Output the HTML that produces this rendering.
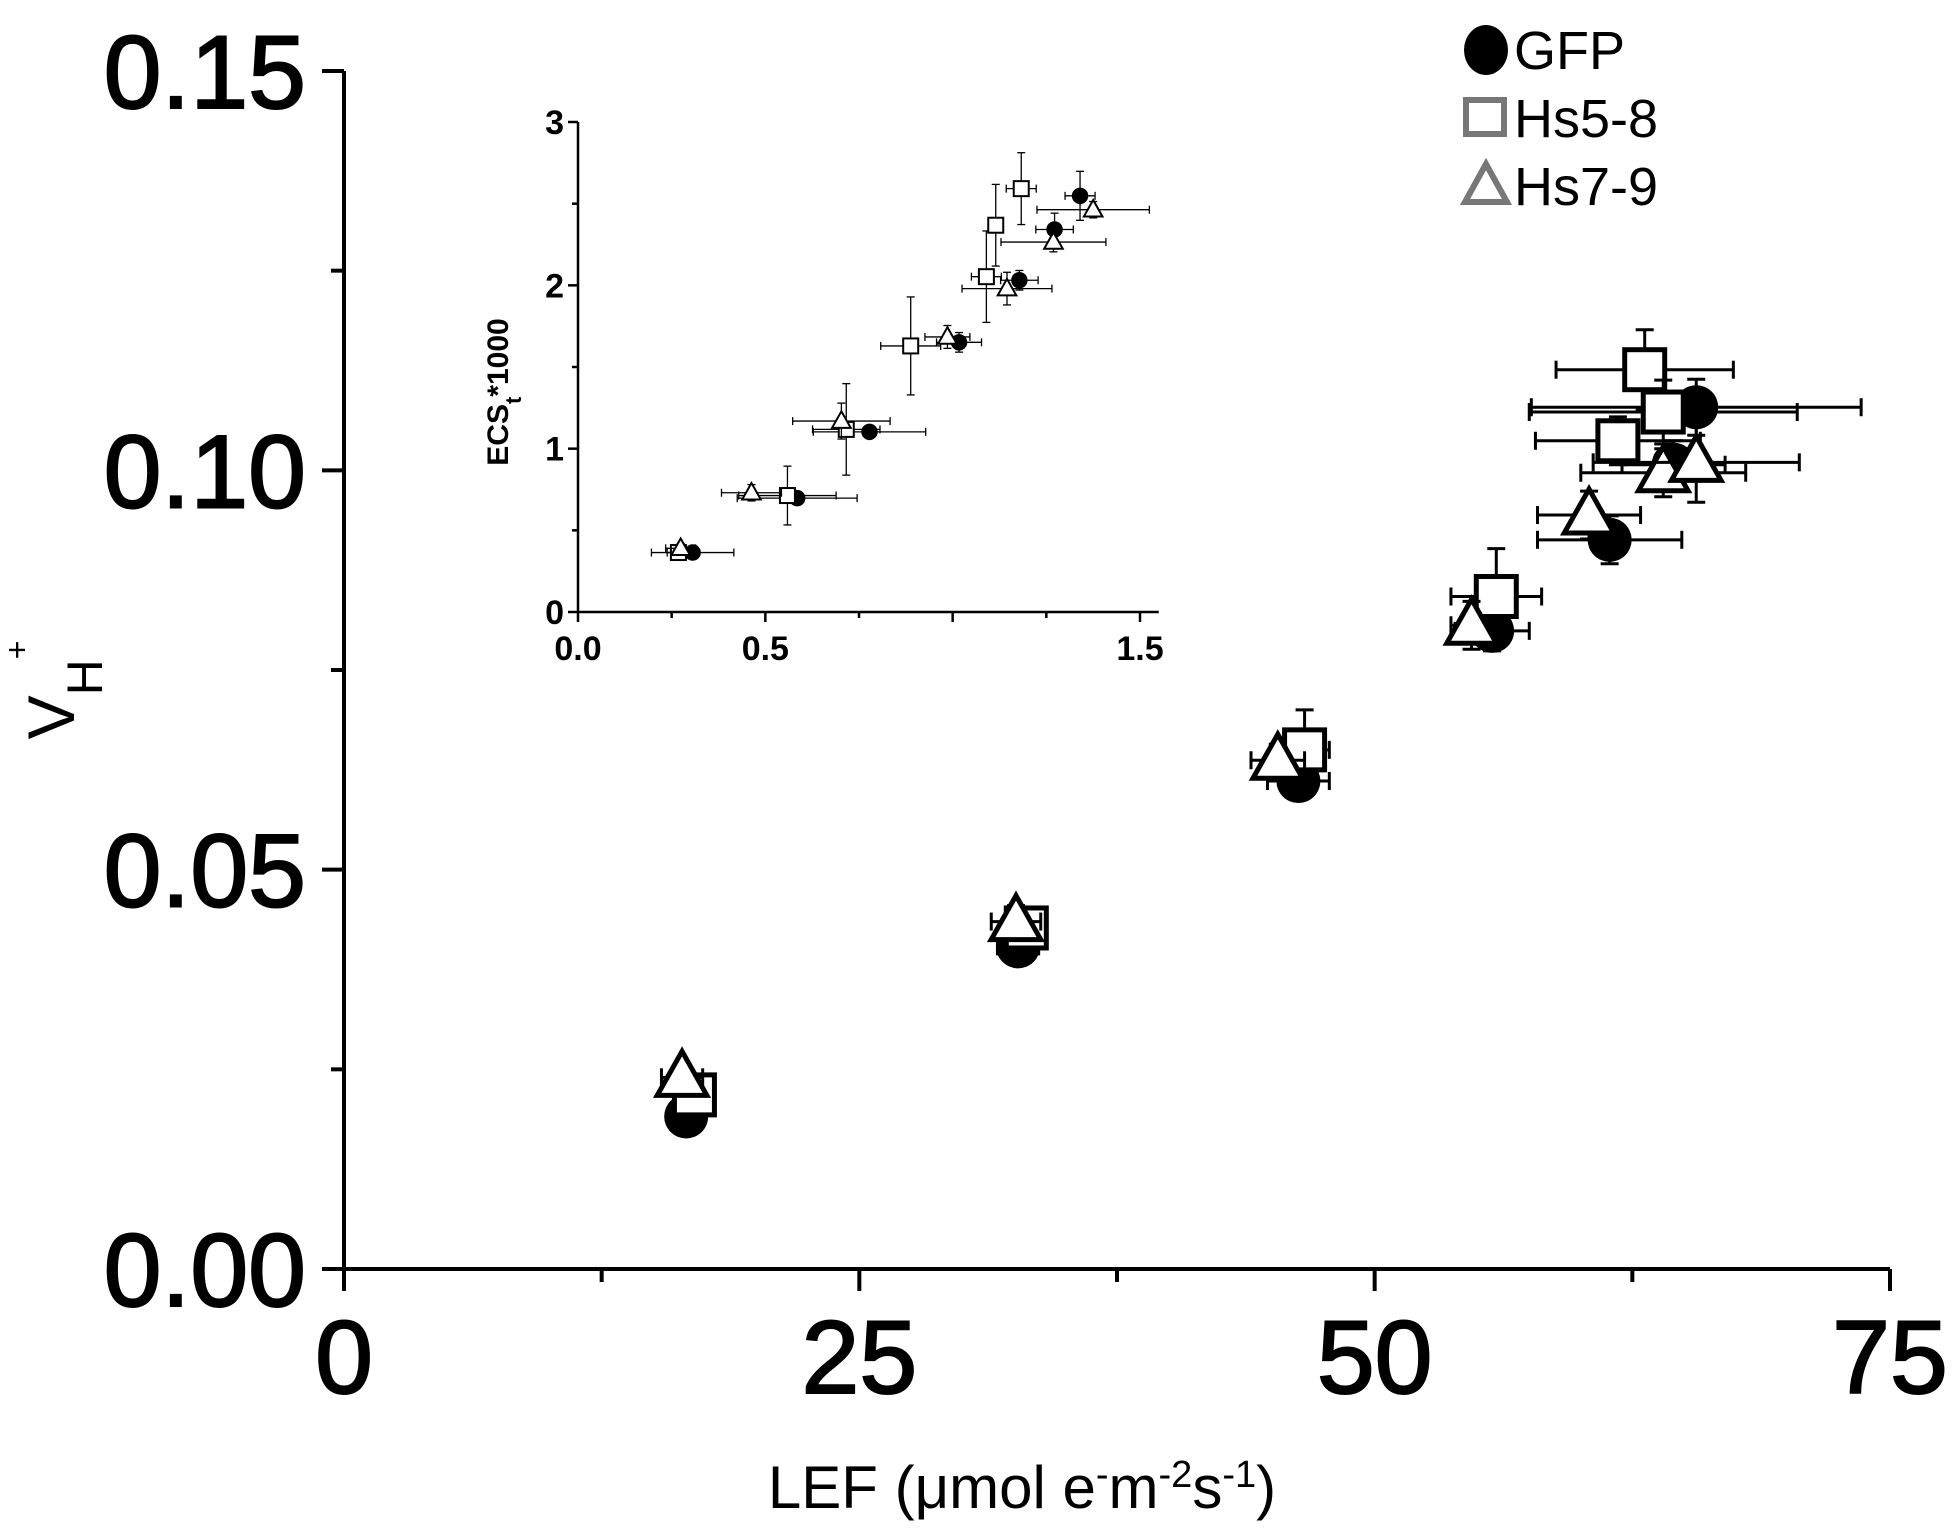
<!DOCTYPE html>
<html><head><meta charset="utf-8"><style>
html,body{margin:0;padding:0;background:#fff;}
svg{display:block;font-family:"Liberation Sans",Arial,sans-serif;}
</style></head><body>
<svg id="chart" width="1959" height="1533" viewBox="0 0 1959 1533" xmlns="http://www.w3.org/2000/svg"></svg>
<script>
// Main chart data: LEF vs vH+
const lefGFP = [16.6, 32.7, 46.3, 55.7, 61.4, 64.5, 65.6];
const vhGFP = [0.0191, 0.0404, 0.0611, 0.0799, 0.0913, 0.1007, 0.1079];
const lefErrGFP = [0.6, 1.0, 1.5, 1.8, 3.5, 2.5, 8.0];
const vhErrGFP = [0.0015, 0.002, 0.002, 0.0025, 0.003, 0.003, 0.0035];
const lefHs58 = [17.0, 33.1, 46.6, 55.9, 61.8, 63.1, 64.0];
const vhHs58 = [0.0218, 0.0427, 0.065, 0.0842, 0.1037, 0.1126, 0.1073];
const lefErrHs58 = [0.6, 0.8, 1.2, 2.2, 4.0, 4.3, 6.5];
const vhErrHs58 = [0.0015, 0.002, 0.005, 0.006, 0.003, 0.005, 0.004];
const lefHs79 = [16.4, 32.6, 45.3, 54.7, 60.4, 64.0, 65.6];
const vhHs79 = [0.024, 0.0435, 0.0637, 0.0806, 0.0944, 0.0997, 0.101];
const lefErrHs79 = [1.0, 1.2, 1.3, 1.0, 2.5, 4.0, 5.0];
const vhErrHs79 = [0.0015, 0.002, 0.002, 0.003, 0.003, 0.003, 0.005];
const xTicks = [0, 25, 50, 75];
const yTicks = [0.00, 0.05, 0.10, 0.15];
const yTickLabels = ["0.00", "0.05", "0.10", "0.15"];
// Inset data: ECSt*1000 vs x
const inXGFP = [0.306, 0.585, 0.778, 1.017, 1.178, 1.272, 1.340];
const inYGFP = [0.364, 0.697, 1.103, 1.651, 2.031, 2.342, 2.548];
const inXErrGFP = [0.11, 0.16, 0.15, 0.06, 0.05, 0.05, 0.04];
const inYErrGFP = [0.03, 0.04, 0.04, 0.06, 0.06, 0.1, 0.15];
const inXHs58 = [0.268, 0.559, 0.716, 0.888, 1.090, 1.115, 1.183];
const inYHs58 = [0.364, 0.713, 1.118, 1.629, 2.053, 2.368, 2.592];
const inXErrHs58 = [0.03, 0.13, 0.09, 0.08, 0.04, 0.02, 0.04];
const inYErrHs58 = [0.03, 0.18, 0.28, 0.3, 0.28, 0.25, 0.22];
const inXHs79 = [0.274, 0.463, 0.703, 0.986, 1.145, 1.269, 1.375];
const inYHs79 = [0.39, 0.73, 1.169, 1.684, 1.98, 2.265, 2.463];
const inXErrHs79 = [0.04, 0.08, 0.13, 0.06, 0.12, 0.14, 0.15];
const inYErrHs79 = [0.03, 0.05, 0.11, 0.07, 0.1, 0.06, 0.05];
const inXTicks = [0.0, 0.5, 1.5];
const inXTickLabels = ["0.0", "0.5", "1.5"];
const inYTicks = [0, 1, 2, 3];

const NS = "http://www.w3.org/2000/svg";
const svg = document.getElementById('chart');
function mk(tag, attrs, parent) {
  const e = document.createElementNS(NS, tag);
  for (const k in attrs) e.setAttribute(k, attrs[k]);
  (parent || svg).appendChild(e);
  return e;
}
const X0 = 344, X1 = 1890, Y0 = 1269, Y1 = 71;
const sx = v => X0 + v / 75 * (X1 - X0);
const sy = v => Y0 - v / 0.15 * (Y0 - Y1);
const IX0 = 578, IX1 = 1140, IY0 = 612, IY1 = 122;
const isx = v => IX0 + v / 1.5 * (IX1 - IX0);
const isy = v => IY0 - v / 3 * (IY0 - IY1);

const axL = mk('line', {x1: X0, y1: Y1, x2: X0, y2: Y0 + 2, stroke: '#000', 'stroke-width': 4});


const axB = mk('line', {x1: X0 - 2, y1: Y0, x2: X1, y2: Y0, stroke: '#000', 'stroke-width': 4});


for (let i = 0; i <= 6; i++) {
  const y = sy(i * 0.025), major = i % 2 === 0;
  const t = mk('line', {x1: X0 - (major ? 22 : 13), y1: y, x2: X0, y2: y, stroke: '#000', 'stroke-width': 4});
  
  
}
yTicks.forEach((v, i) => {
  const t = mk('text', {x: 306, y: sy(v) + 37, 'font-size': 104, 'text-anchor': 'end', stroke: '#000', 'stroke-width': 2});
  t.textContent = yTickLabels[i];
  
  
});
for (let i = 0; i <= 6; i++) {
  const x = sx(i * 12.5), major = i % 2 === 0;
  const t = mk('line', {x1: x, y1: Y0, x2: x, y2: Y0 + (major ? 22 : 13), stroke: '#000', 'stroke-width': 4});
  
  
}
xTicks.forEach(v => {
  const t = mk('text', {x: sx(v), y: 1393, 'font-size': 104, 'text-anchor': 'middle', stroke: '#000', 'stroke-width': 2});
  t.textContent = String(v);
  
  
});
const xt = mk('text', {x: 1022, y: 1508, 'font-size': 60, 'text-anchor': 'middle'});
xt.innerHTML = 'LEF (<tspan>μ</tspan>mol e<tspan baseline-shift="super" font-size="38">-</tspan>m<tspan baseline-shift="super" font-size="38">-2</tspan>s<tspan baseline-shift="super" font-size="38">-1</tspan>)';


const yt = mk('text', {transform: 'translate(74,690) rotate(-90)', 'font-size': 66, 'text-anchor': 'middle'});
yt.innerHTML = 'V<tspan baseline-shift="sub" font-size="50">H</tspan><tspan dy="-46" font-size="32">+</tspan>';



function errBars(g, px, py, ex, ey, cap, w) {
  mk('line', {x1: px - ex, y1: py, x2: px + ex, y2: py, stroke: '#000', 'stroke-width': w}, g);
  mk('line', {x1: px - ex, y1: py - cap, x2: px - ex, y2: py + cap, stroke: '#000', 'stroke-width': w}, g);
  mk('line', {x1: px + ex, y1: py - cap, x2: px + ex, y2: py + cap, stroke: '#000', 'stroke-width': w}, g);
  mk('line', {x1: px, y1: py - ey, x2: px, y2: py + ey, stroke: '#000', 'stroke-width': w}, g);
  mk('line', {x1: px - cap, y1: py - ey, x2: px + cap, y2: py - ey, stroke: '#000', 'stroke-width': w}, g);
  mk('line', {x1: px - cap, y1: py + ey, x2: px + cap, y2: py + ey, stroke: '#000', 'stroke-width': w}, g);
}
function marker(g, kind, px, py, s, w) {
  if (kind === 'circle') mk('circle', {cx: px, cy: py, r: s * 0.55, fill: '#000'}, g);
  else if (kind === 'square') mk('rect', {x: px - s / 2, y: py - s / 2, width: s, height: s, fill: '#fff', stroke: '#000', 'stroke-width': w}, g);
  else mk('polygon', {points: `${px},${py - s * 0.65} ${px - s * 0.62},${py + s * 0.45} ${px + s * 0.62},${py + s * 0.45}`, fill: '#fff', stroke: '#000', 'stroke-width': w}, g);
}
const mainSeries = [
  ['gfp', 'circle', lefGFP, vhGFP, lefErrGFP, vhErrGFP],
  ['hs5-8', 'square', lefHs58, vhHs58, lefErrHs58, vhErrHs58],
  ['hs7-9', 'triangle', lefHs79, vhHs79, lefErrHs79, vhErrHs79]
];
mainSeries.forEach(([name, kind, xs, ys, exs, eys]) => {
  const g = mk('g', {});
  
  
  xs.forEach((v, i) => {
    const px = sx(v), py = sy(ys[i]);
    errBars(g, px, py, sx(v + exs[i]) - px, py - sy(ys[i] + eys[i]), 9, 3);
    marker(g, kind, px, py, 40, 5);
  });
});

const iL = mk('line', {x1: IX0, y1: IY1, x2: IX0, y2: IY0 + 1, stroke: '#000', 'stroke-width': 2.5});


const iB = mk('line', {x1: IX0 - 1, y1: IY0, x2: isx(1.55), y2: IY0, stroke: '#000', 'stroke-width': 2.5});


for (let i = 0; i <= 6; i++) {
  const y = isy(i * 0.5);
  const t = mk('line', {x1: IX0 - (i % 2 ? 6 : 10), y1: y, x2: IX0, y2: y, stroke: '#000', 'stroke-width': 2.5});
  
  
}
for (let i = 0; i <= 6; i++) {
  const x = isx(i * 0.25);
  const t = mk('line', {x1: x, y1: IY0, x2: x, y2: IY0 + (i % 2 ? 6 : 10), stroke: '#000', 'stroke-width': 2.5});
  
  
}
inYTicks.forEach(v => {
  const t = mk('text', {x: IX0 - 14, y: isy(v) + 12, 'font-size': 34, 'font-weight': 'bold', 'text-anchor': 'end'});
  t.textContent = String(v);
  
  
});
inXTicks.forEach((v, i) => {
  const t = mk('text', {x: isx(v), y: 660, 'font-size': 34, 'font-weight': 'bold', 'text-anchor': 'middle'});
  t.textContent = inXTickLabels[i];
  
  
});
const iyt = mk('text', {transform: 'translate(508,392) rotate(-90)', 'font-size': 30, 'font-weight': 'bold', 'text-anchor': 'middle'});
iyt.innerHTML = 'ECS<tspan baseline-shift="sub" font-size="22">t</tspan>*1000';


const insetSeries = [
  ['gfp', 'circle', inXGFP, inYGFP, inXErrGFP, inYErrGFP],
  ['hs5-8', 'square', inXHs58, inYHs58, inXErrHs58, inYErrHs58],
  ['hs7-9', 'triangle', inXHs79, inYHs79, inXErrHs79, inYErrHs79]
];
insetSeries.forEach(([name, kind, xs, ys, exs, eys]) => {
  const g = mk('g', {});
  
  
  xs.forEach((v, i) => {
    const px = isx(v), py = isy(ys[i]);
    errBars(g, px, py, isx(v + exs[i]) - px, py - isy(ys[i] + eys[i]), 4, 1.3);
    marker(g, kind, px, py, 15, 2);
  });
});

const legend = mk('g', {});


const entries = [['GFP', 'circle', 50], ['Hs5-8', 'square', 118], ['Hs7-9', 'triangle', 186]];
entries.forEach(([label, kind, y]) => {
  const g = mk('g', {}, legend);
  
  
  if (kind === 'circle') mk('ellipse', {cx: 1486, cy: y, rx: 22, ry: 25, fill: '#000'}, g);
  else if (kind === 'square') mk('rect', {x: 1466, y: y - 18, width: 38, height: 34, fill: '#fff', stroke: '#777', 'stroke-width': 6}, g);
  else mk('polygon', {points: `${1486},${y - 22} ${1465},${y + 16} ${1507},${y + 16}`, fill: '#fff', stroke: '#777', 'stroke-width': 6}, g);
  const t = mk('text', {x: 1514, y: y + 19, 'font-size': 54}, g);
  t.textContent = label;
});
</script>
</body></html>
